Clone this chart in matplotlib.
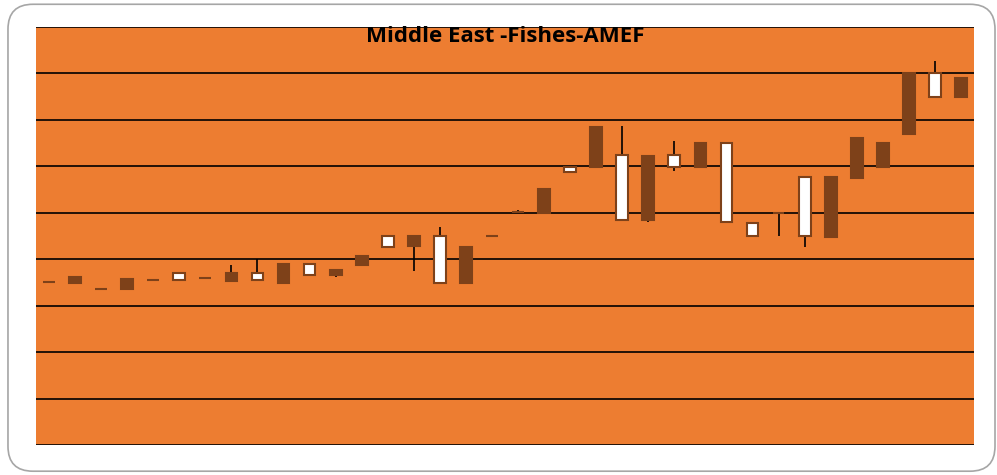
import matplotlib.pyplot as plt
from matplotlib.patches import FancyBboxPatch, Rectangle

# candle values (gridline step = 10)
opens = [35.0, 36.2, 33.6, 35.7, 35.5, 35.5, 36.0, 37.0, 35.5, 39.0,
         36.6, 37.7, 40.7, 42.6, 45.0, 34.9, 42.6, 45.0, 50.2, 55.1,
         58.8, 68.5, 48.4, 62.2, 59.9, 65.0, 48.0, 45.0, 50.0, 45.0,
         57.7, 66.1, 65.0, 80.1, 74.9, 79.0]
highs = [35.0, 36.4, 33.6, 35.7, 35.5, 37.0, 36.0, 38.8, 40.0, 39.0,
         39.0, 37.7, 40.7, 45.0, 45.0, 46.9, 42.6, 45.0, 50.6, 55.1,
         59.9, 68.5, 68.7, 62.4, 65.5, 65.0, 65.0, 48.0, 50.0, 57.7,
         57.7, 66.1, 65.0, 80.1, 82.7, 79.0]
lows = [35.0, 34.9, 33.6, 33.6, 35.5, 35.5, 36.0, 35.3, 35.5, 34.9,
        36.6, 36.2, 38.8, 42.6, 37.5, 34.9, 34.9, 45.0, 50.2, 50.0,
        58.8, 59.9, 48.4, 48.0, 59.0, 59.9, 48.0, 45.0, 45.0, 42.6,
        44.8, 57.5, 59.9, 67.0, 74.9, 74.9]
closes = [35.0, 34.9, 33.6, 33.6, 35.5, 37.0, 36.0, 35.3, 37.0, 34.9,
          39.0, 36.6, 38.8, 45.0, 42.8, 45.0, 34.9, 45.0, 50.2, 50.0,
          59.9, 59.9, 62.4, 48.4, 62.4, 59.9, 65.0, 47.8, 50.0, 57.7,
          44.8, 57.5, 59.9, 67.0, 80.1, 74.9]

title = "Middle East -Fishes-AMEF"

orange = "#ED7D31"
brown = "#7E4119"

fig = plt.figure(figsize=(9.97, 4.75), dpi=100)

# rounded frame around the whole chart
frame = FancyBboxPatch((0.008, 0.008), 0.99, 0.983,
                       boxstyle="round,pad=0,rounding_size=0.025",
                       transform=fig.transFigure, facecolor="white",
                       edgecolor="#A6A6A6", linewidth=1.2,
                       mutation_aspect=997 / 475, zorder=-1)
fig.patches.append(frame)

ax = fig.add_axes([36 / 997, 30 / 475, 938 / 997, 418 / 475])
ax.set_facecolor(orange)
ax.set_xlim(-0.5, len(opens) - 0.5)
ax.set_ylim(0, 90)
ax.set_yticks(range(0, 91, 10))
ax.yaxis.grid(True, color="black", linewidth=1.2)
ax.set_axisbelow(True)
ax.tick_params(left=False, bottom=False, labelleft=False, labelbottom=False)
for s in ax.spines.values():
    s.set_visible(False)

w = 0.45
for i, (o, h, l, c) in enumerate(zip(opens, highs, lows, closes)):
    lo, hi = min(o, c), max(o, c)
    ax.vlines(i, l, h, color="black", linewidth=1.2, zorder=3)
    up = c > o
    ax.add_patch(Rectangle((i - w / 2, lo), w, hi - lo,
                           facecolor="white" if up else brown,
                           edgecolor=brown, linewidth=1.5, zorder=4))

fig.text(505 / 997, 1 - 36 / 475, title, ha="center", va="center",
         fontsize=16, fontweight="bold", family="Open Sans", zorder=5)

fig.savefig("out.png", dpi=100)
